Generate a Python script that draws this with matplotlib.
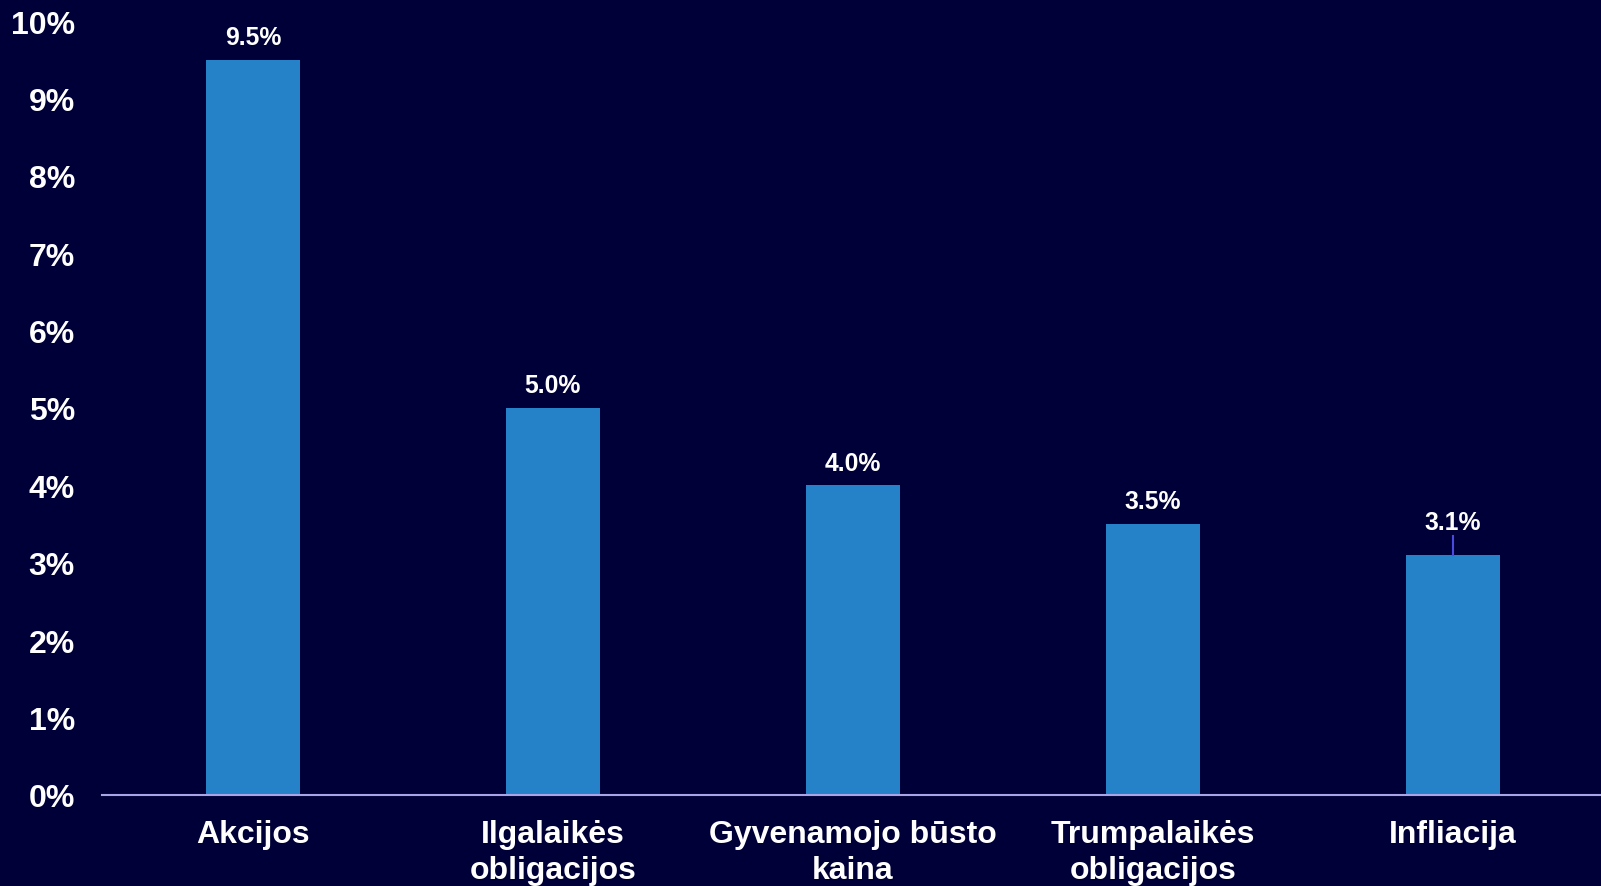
import matplotlib.pyplot as plt
import numpy as np

categories = ["Akcijos", "Ilgalaikės\nobligacijos", "Gyvenamojo būsto\nkaina",
              "Trumpalaikės\nobligacijos", "Infliacija"]
values = [9.5, 5.0, 4.0, 3.5, 3.1]
yticks = [0, 1, 2, 3, 4, 5, 6, 7, 8, 9, 10]

BG = "#000038"
BAR = "#2581c8"
AXIS = "#a9a4e6"

plt.rcParams["font.family"] = ["Liberation Sans", "DejaVu Sans"]
plt.rcParams["font.weight"] = "bold"

fig = plt.figure(figsize=(16.01, 8.87), dpi=100, facecolor=BG)
ax = fig.add_axes([102 / 1601, 1 - 796 / 887, 1 - 102 / 1601, (796 - 22) / 887])
ax.set_facecolor(BG)

x = np.arange(len(categories))
ax.bar(x, values, width=0.313, color=BAR, zorder=2)

for xi, v in zip(x, values):
    if v == values[-1]:
        # data label pulled up with a leader line
        ax.plot([xi, xi], [v, v + 0.25], color="#4a4ae0", lw=1.5, zorder=3)
        ax.text(xi, v + 0.27, f"{v:.1f}%", ha="center", va="bottom",
                color="white", fontsize=17.8, fontweight="bold")
    else:
        ax.text(xi, v + 0.14, f"{v:.1f}%", ha="center", va="bottom",
                color="white", fontsize=17.8, fontweight="bold")

ax.set_xlim(-0.503, 4.493)
ax.set_ylim(0, 10)
ax.set_yticks(yticks)
ax.set_yticklabels([f"{t}%" for t in yticks])
ax.set_xticks(x)
ax.set_xticklabels(categories, linespacing=1.27)
ax.tick_params(axis="y", length=0, pad=19.5, labelsize=23, labelcolor="white")
ax.tick_params(axis="x", length=0, pad=17, labelsize=23, labelcolor="white")

for side in ["top", "right", "left"]:
    ax.spines[side].set_visible(False)
ax.spines["bottom"].set_color(AXIS)
ax.spines["bottom"].set_linewidth(1.5)
ax.spines["bottom"].set_zorder(3)

fig.savefig("out.png", dpi=100, facecolor=BG)
